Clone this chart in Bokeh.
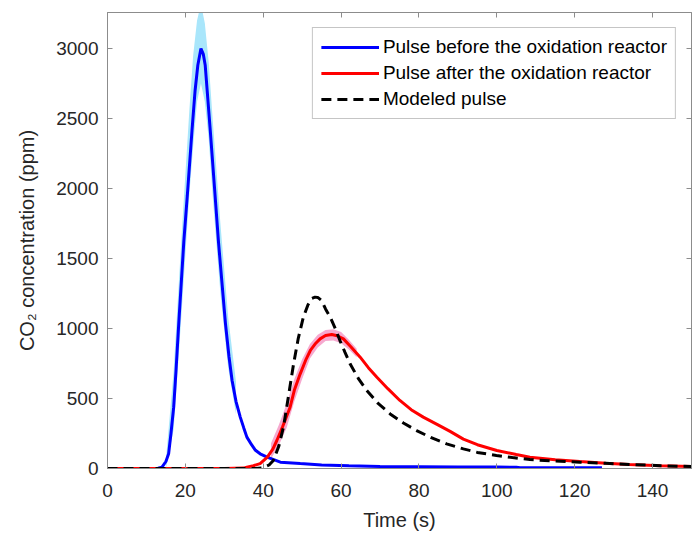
from bokeh.plotting import figure
from bokeh.models import Range1d, FixedTicker, LinearAxis, Legend
from bokeh.embed import file_html
from bokeh.resources import INLINE

# ---- data ----
blue_t = [0, 10, 13, 14, 15, 15.7, 16.3, 17, 17.6, 18.3, 19, 19.6, 20.5, 21.7, 22.5, 23.2, 24, 24.6, 25.1,
          26.4, 27.5, 28.5, 30.3, 31.2, 32, 33, 34.1, 35, 35.8, 37, 38, 39.2, 41, 44.4, 49.5, 55, 62, 70,
          80, 90, 100, 105, 106, 115, 127]
blue_v = [0, 0, 2, 10, 50, 105, 250, 438, 700, 1035, 1350, 1620, 1950, 2414, 2700, 2880, 3000, 2960, 2880,
          2414, 2000, 1620, 1035, 800, 629, 480, 367, 290, 224, 170, 130, 105, 81, 45, 35, 25, 19, 15,
          13, 11, 10, 9, 6, 5, 5]

blue_band_t = [15, 17, 19, 21, 22, 23, 24, 25, 26, 27, 29, 31, 33]
blue_band_hi = [60, 700, 1650, 2550, 2950, 3200, 3320, 3180, 2900, 2500, 1750, 1080, 620]
blue_band_lo = [0, 280, 1100, 1950, 2300, 2620, 2750, 2620, 2350, 1950, 1250, 720, 390]

red_t = [0, 30, 35, 35.8, 37.5, 39.2, 41, 42.5, 43.5, 45, 46.9, 48, 49.5, 51, 52.1, 53.5, 54.6, 56, 57.6,
         59, 60.6, 62.5, 64.9, 67, 69.2, 72, 75.1, 78, 81.1, 85, 88, 91.4, 95, 100, 105, 108.5, 115,
         121.3, 128, 134, 142, 150]
red_v = [0, 0, 3, 10, 20, 35, 80, 140, 200, 300, 438, 560, 676, 780, 843, 895, 926, 950, 957,
         948, 926, 870, 795, 720, 652, 570, 486, 420, 367, 310, 265, 210, 170, 129, 100, 81, 63,
         50, 38, 29, 20, 14]

red_band_t = [42, 44, 46, 48, 50, 52, 54, 56, 58, 60, 62, 64]
red_band_hi = [180, 310, 460, 640, 780, 890, 955, 990, 995, 975, 920, 855]
red_band_lo = [70, 165, 290, 480, 640, 785, 865, 910, 915, 895, 850, 795]

model_t = [0, 38, 40, 41.5, 42.6, 44, 45.2, 46.5, 47.8, 49, 50.3, 51.5, 52.5, 53.3, 54, 55, 56, 57.2,
           58.5, 59.7, 61, 62.3, 64.5, 66.6, 69.5, 72.6, 76, 79.4, 83, 87.1, 91.4, 95, 99.9, 104,
           108.5, 115, 121.3, 128, 134, 142, 150]
model_v = [0, 0, 5, 25, 57, 160, 295, 520, 748, 930, 1081, 1170, 1215, 1224, 1222, 1200, 1140, 1081,
           1000, 914, 830, 748, 640, 557, 465, 390, 325, 271, 222, 176, 140, 115, 93, 78,
           64, 53, 45, 37, 29, 20, 14]

x_ticks = [0, 20, 40, 60, 80, 100, 120, 140]
y_ticks = [0, 500, 1000, 1500, 2000, 2500, 3000]

FONT = "Liberation Sans"
TXT = "#262626"
AX = "#8c8c8c"

p = figure(width=692, height=534, output_backend="svg", toolbar_location=None,
           x_range=Range1d(0, 150), y_range=Range1d(0, 3257),
           min_border_left=107, min_border_right=1, min_border_top=12, min_border_bottom=66)
p.background_fill_color = "white"
p.border_fill_color = "white"
p.grid.visible = False
p.outline_line_color = AX
p.outline_line_width = 1

p.varea(x=blue_band_t, y1=blue_band_lo, y2=blue_band_hi, fill_color="#a9e6fb", fill_alpha=1.0)
p.varea(x=red_band_t, y1=red_band_lo, y2=red_band_hi, fill_color="#f6a9cf", fill_alpha=1.0)

r1 = p.line(blue_t, blue_v, line_color="#0000ff", line_width=3)
r2 = p.line(red_t, red_v, line_color="#ff0000", line_width=3)
r3 = p.line(model_t, model_v, line_color="black", line_width=3, line_dash="10 6")

for ax, ticks in ((p.xaxis[0], x_ticks), (p.yaxis[0], y_ticks)):
    ax.ticker = FixedTicker(ticks=ticks)
    ax.minor_tick_line_color = None
    ax.major_tick_in = 5
    ax.major_tick_out = 0
    ax.axis_line_color = AX
    ax.major_tick_line_color = AX
    ax.major_label_text_font = FONT
    ax.major_label_text_font_size = "19px"
    ax.major_label_text_color = TXT
    ax.axis_label_text_font = FONT
    ax.axis_label_text_font_size = "20px"
    ax.axis_label_text_font_style = "normal"
    ax.axis_label_text_color = TXT

p.xaxis[0].axis_label = "Time (s)"
p.xaxis[0].major_label_standoff = 15
p.xaxis[0].axis_label_standoff = 9
p.yaxis[0].axis_label = "CO\u2082 concentration (ppm)"
p.yaxis[0].major_label_standoff = 9
p.yaxis[0].axis_label_standoff = 15

for loc, ticks in (("above", x_ticks), ("right", y_ticks)):
    a = LinearAxis(ticker=FixedTicker(ticks=ticks))
    a.minor_tick_line_color = None
    a.major_tick_in = 5
    a.major_tick_out = 0
    a.axis_line_color = AX
    a.major_tick_line_color = AX
    a.major_label_text_font_size = "0px"
    a.major_label_standoff = 0
    a.major_label_text_alpha = 0
    p.add_layout(a, loc)

legend = Legend(items=[("Pulse before the oxidation reactor", [r1]),
                       ("Pulse after the oxidation reactor", [r2]),
                       ("Modeled pulse", [r3])],
                location="top_right")
legend.margin = 15
legend.padding = 8
legend.spacing = 4
legend.label_text_font = FONT
legend.label_text_font_size = "19px"
legend.label_text_color = "black"
legend.label_height = 22
legend.glyph_height = 22
legend.glyph_width = 58
legend.label_standoff = 4
legend.border_line_color = AX
legend.border_line_width = 1
legend.background_fill_color = "white"
legend.background_fill_alpha = 1.0
p.add_layout(legend)

open("out.html", "w").write(file_html(p, INLINE))
